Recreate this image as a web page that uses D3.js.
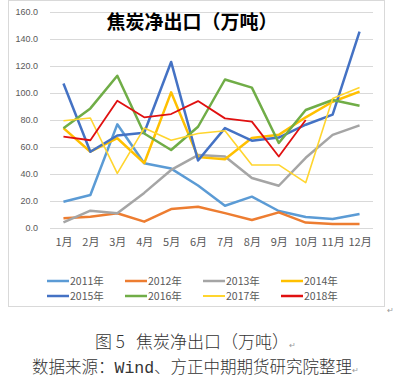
<!DOCTYPE html>
<html>
<head>
<meta charset="utf-8">
<script src="https://cdn.jsdelivr.net/npm/d3@7"></script>
<style>
  body { margin: 0; background: #fff; }
  svg text { font-family: "Noto Sans CJK SC", "Noto Sans", sans-serif; }
</style>
</head>
<body>
<div id="chart"></div>
<script>
var months = ["1月","2月","3月","4月","5月","6月","7月","8月","9月","10月","11月","12月"];
var yTicks = [0, 20, 40, 60, 80, 100, 120, 140, 160];
var seriesNames = ["2011年","2012年","2013年","2014年","2015年","2016年","2017年","2018年"];
var seriesColors = ["#5B9BD5","#ED7D31","#A5A5A5","#FFC000","#4472C4","#70AD47","#FFD52E","#E01010"];
var seriesWidths = [2.5, 2.5, 2.5, 2.5, 2.5, 2.5, 1.6, 1.8];

var v2011 = [19.5, 24.4, 76.8, 48, 44, 31.5, 16.5, 23.2, 12.6, 8.1, 6.6, 10.4];
var v2012 = [7.2, 8.4, 10.9, 4.7, 14, 15.8, 11, 5.9, 11.6, 4, 3, 3];
var v2013 = [4.2, 12.8, 11, 26, 43, 54, 53, 37, 31.3, 52, 69, 76];
var v2014 = [74, 56.5, 66.5, 48, 100.5, 52.5, 51, 66.7, 69, 82, 93.5, 101];
var v2015 = [107, 56.5, 68.5, 70.6, 123, 50, 74, 64.7, 67, 76.5, 84, 145.4];
var v2016 = [73.8, 88.6, 112.8, 70, 57.8, 75, 110, 104, 63, 87.4, 94.8, 90.6];
var v2017 = [79.5, 81.5, 40.5, 74, 65, 70, 72, 46.7, 46.7, 33.6, 96, 104];
var v2018 = [67.7, 65, 94.3, 82, 84.4, 94, 81.2, 78.8, 53, 80];
var allValues = [v2011, v2012, v2013, v2014, v2015, v2016, v2017, v2018];

var W = 398, H = 380;
var svg = d3.select("#chart").append("svg")
    .attr("width", W).attr("height", H);

// chart frame
svg.append("rect")
    .attr("x", 8.5).attr("y", 0.5)
    .attr("width", 376).attr("height", 306)
    .attr("fill", "#fff").attr("stroke", "#D9D9D9");

var x = d3.scalePoint().domain(months).range([50, 373]).padding(0.5);
var y = d3.scaleLinear().domain([0, 160]).range([228, 12]);

// gridlines
svg.append("g").selectAll("line")
    .data(yTicks).enter().append("line")
    .attr("x1", 50).attr("x2", 373)
    .attr("y1", d => Math.round(y(d)) + 0.5).attr("y2", d => Math.round(y(d)) + 0.5)
    .attr("stroke", "#D9D9D9").attr("stroke-width", 1);

// y axis labels
var yAxis = d3.axisLeft(y).tickValues(yTicks).tickFormat(d3.format(".1f")).tickSize(0).tickPadding(12);
var gy = svg.append("g").attr("transform", "translate(50,0)").call(yAxis);
gy.select(".domain").remove();
gy.selectAll("text").attr("fill", "#595959").style("font-size", "9px")
    .style("font-family", "'Liberation Sans', Arial, sans-serif");

// x axis labels
var xAxis = d3.axisBottom(x).tickSize(0).tickPadding(10);
var gx = svg.append("g").attr("transform", "translate(0,228)").call(xAxis);
gx.select(".domain").remove();
gx.selectAll("text").attr("fill", "#595959").style("font-size", "11px");

// title
svg.append("text")
    .attr("x", 192).attr("y", 29)
    .attr("text-anchor", "middle")
    .style("font-size", "19px").style("font-weight", "bold")
    .attr("fill", "#000")
    .text("焦炭净出口（万吨）");

// lines
var line = d3.line()
    .x((d, i) => x(months[i]))
    .y(d => y(d));

svg.append("g").selectAll("path")
    .data(allValues).enter().append("path")
    .attr("d", d => line(d))
    .attr("fill", "none")
    .attr("stroke", (d, i) => seriesColors[i])
    .attr("stroke-width", (d, i) => seriesWidths[i])
    .attr("stroke-linejoin", "round");

// legend
var legCols = [47, 125, 203, 281];
var legRows = [281, 296];
var leg = svg.append("g").selectAll("g")
    .data(seriesNames).enter().append("g")
    .attr("transform", (d, i) => `translate(${legCols[i % 4]},${legRows[Math.floor(i / 4)]})`);
leg.append("line")
    .attr("x1", 0).attr("x2", 22).attr("y1", 0).attr("y2", 0)
    .attr("stroke", (d, i) => seriesColors[i])
    .attr("stroke-width", (d, i) => i == 6 ? 2 : 2.5);
leg.append("text")
    .attr("x", 23).attr("y", 4)
    .attr("fill", "#595959")
    .style("font-size", "10.5px")
    .text(d => d);

// paragraph marks and caption
svg.append("text")
    .attr("x", 387).attr("y", 313)
    .attr("fill", "#999").style("font-size", "8px")
    .text("↵");

var cap1 = svg.append("text")
    .attr("x", 95).attr("y", 348)
    .attr("fill", "#333").style("font-size", "17px").style("font-weight", "300");
cap1.append("tspan").text("图\u00A05\u00A0\u00A0\u00A0焦炭净出口（万吨）");
cap1.append("tspan").attr("fill", "#999").style("font-size", "8px").text("↵");

var cap2 = svg.append("text")
    .attr("x", 32).attr("y", 373)
    .attr("fill", "#333").style("font-size", "16.5px").style("font-weight", "300");
cap2.append("tspan").text("数据来源：");
cap2.append("tspan").style("font-family", "'Liberation Mono', monospace").text("Wind");
cap2.append("tspan").text("、方正中期期货研究院整理");
cap2.append("tspan").attr("fill", "#999").style("font-size", "8px").text("↵");
</script>
</body>
</html>
